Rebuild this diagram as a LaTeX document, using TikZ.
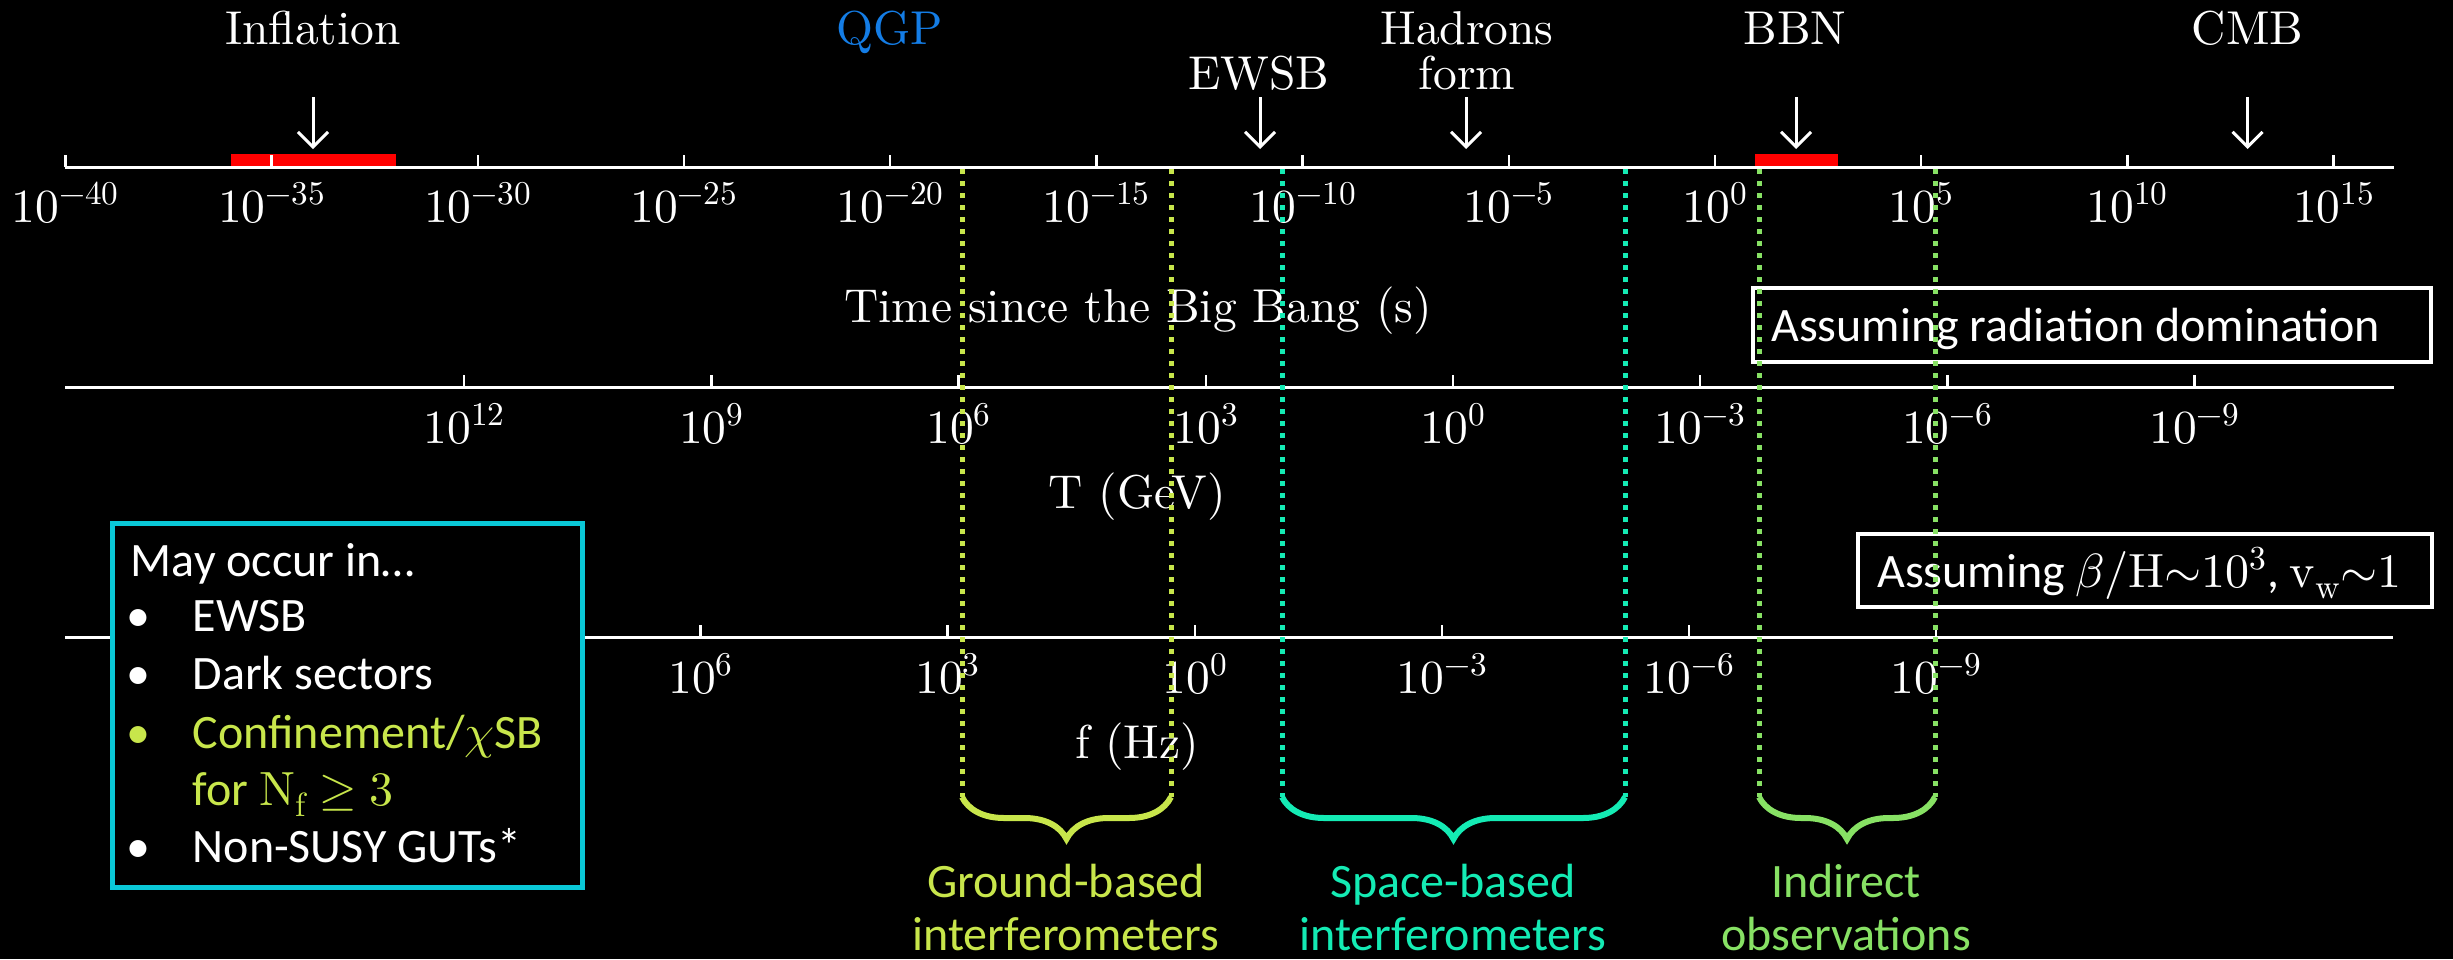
\documentclass[tikz,border=0pt]{standalone}
\usepackage{fontspec}
\usepackage{unicode-math}
\setmainfont{lmroman10-regular.otf}[ItalicFont=lmroman10-italic.otf, BoldFont=lmroman10-bold.otf]
\setmathfont{latinmodern-math.otf}
\newfontfamily\carlito{Carlito}
\usetikzlibrary{arrows.meta,decorations.pathreplacing}
\definecolor{groundc}{RGB}{200,230,75}
\definecolor{spacec}{RGB}{20,235,180}
\definecolor{indc}{RGB}{135,225,100}
\definecolor{qgpc}{RGB}{20,125,230}
\definecolor{boxc}{RGB}{10,200,215}
\begin{document}
\begin{tikzpicture}[x=1pt,y=-1pt,
  font=\fontsize{47.5}{56}\selectfont,
  axisline/.style={white, line width=3pt},
  tickmark/.style={white, line width=2.5pt},
  ticklabel/.style={white, anchor=base, inner sep=0pt},
  evlabel/.style={white, anchor=base, inner sep=0pt},
  axtitle/.style={white, anchor=base, inner sep=0pt},
  evarrow/.style={white, line width=3pt, -{Straight Barb[length=15pt,width=30pt,line width=3pt]}},
  redbar/.style={fill=red, draw=none},
  dotline/.style={line width=5pt, dash pattern=on 5pt off 7pt},
  bracestyle/.style={line width=6pt, decorate, decoration={brace, mirror, amplitude=42pt}},
  sans/.style={font=\carlito\fontsize{48}{55}\selectfont, inner sep=0pt},
  infobox/.style={draw=white, line width=4pt, fill=black, inner sep=0pt},
]
\fill[black] (0,0) rectangle (2453,959);
\useasboundingbox (0,0) rectangle (2453,959);

% ---- event labels
\node[evlabel] (infl) at (313,44) {Inflation};
\node[evlabel, text=qgpc] (qgp) at (889.5,44) {QGP};
\node[evlabel] (ewsb) at (1259,89) {EWSB};
\node[evlabel] (hadr) at (1467,44) {Hadrons};
\node[evlabel] (form) at (1467,89) {form};
\node[evlabel] (bbn) at (1795,44) {BBN};
\node[evlabel] (cmb) at (2247.5,44) {CMB};

% ---- event arrows
\foreach \nm/\xx in {ai/313, ae/1260, ah/1466, ab/1796, ac/2247.5}{
  \coordinate (\nm s) at (\xx,97);
  \coordinate (\nm e) at (\xx,149);
  \draw[evarrow] (\nm s) -- (\nm e);
}

% ---- red bars
\node[redbar, minimum width=165, minimum height=12, inner sep=0pt, anchor=south west] (infbar) at (231,166) {};
\node[redbar, minimum width=83, minimum height=12, inner sep=0pt, anchor=south west] (bbnbar) at (1755,166) {};

% ---- time axis
\coordinate (ta0) at (65.4,167);
\coordinate (ta1) at (2394,167);
\draw[axisline] (ta0) -- (ta1);
\foreach \n [count=\i] in {-40,-35,...,15}{
  \pgfmathsetmacro\xx{65.4+(\n+40)*41.24}
  \draw[tickmark] (\xx,155) -- (\xx,167);
  \node[ticklabel] (tl\i) at (\xx,222) {$10^{\n}$};
}
\node[axtitle] (ttitle) at (1138,322.7) {Time since the Big Bang (s)};

% ---- temperature axis
\coordinate (Ta0) at (65.4,387);
\coordinate (Ta1) at (2394,387);
\draw[axisline] (Ta0) -- (Ta1);
\foreach \k [count=\i] in {12,9,...,-9}{
  \pgfmathsetmacro\xx{1453-\k*82.4}
  \draw[tickmark] (\xx,375) -- (\xx,387);
  \node[ticklabel] (Tl\i) at (\xx,443) {$10^{\k}$};
}
\node[axtitle] (Ttitle) at (1137,508) {T (GeV)};

% ---- frequency axis
\coordinate (fa0) at (65.4,637);
\coordinate (fa1) at (2393,637);
\draw[axisline] (fa0) -- (fa1);
\foreach \k [count=\i] in {6,3,...,-9}{
  \pgfmathsetmacro\xx{1194.8-\k*82.37}
  \draw[tickmark] (\xx,625) -- (\xx,637);
  \node[ticklabel] (fl\i) at (\xx,693) {$10^{\k}$};
}
\node[axtitle] (ftitle) at (1137,758) {f (Hz)};

% ---- assumption boxes
\node[infobox, minimum width=678, minimum height=74] (radbox) at (2092,325) {};
\node[sans, white, anchor=base west] (radtxt) at (1771,341.7) {Assuming radiation domination};
\node[infobox, minimum width=574, minimum height=73] (betabox) at (2145,570.5) {};
\node[sans, white, anchor=base west] (betatxt) at (1877,587) {Assuming $\beta/\mathrm{H}{\sim}10^3$, $\mathrm{v_w}{\sim}1$};

% ---- "May occur in" box
\node[draw=boxc, line width=5pt, fill=black, minimum width=470, minimum height=364, inner sep=0pt] (occbox) at (347,705) {};
\node[sans, white, anchor=base west] (occ0) at (130.7,576) {May occur in…};
\node[sans, white, anchor=base] (b1) at (138.6,631) {•};
\node[sans, white, anchor=base west] (occ1) at (192.5,631) {EWSB};
\node[sans, white, anchor=base] (b2) at (138.6,689.3) {•};
\node[sans, white, anchor=base west] (occ2) at (192.5,689.3) {Dark sectors};
\node[sans, text=groundc, anchor=base] (b3) at (138.6,748.3) {•};
\node[sans, text=groundc, anchor=base west] (occ3) at (192.5,748.3) {Confinement/$\chi$SB};
\node[sans, text=groundc, anchor=base west] (occ3b) at (192.5,805) {for $\mathrm{N_f}\geq 3$};
\node[sans, white, anchor=base] (b4) at (138.6,862.7) {•};
\node[sans, white, anchor=base west] (occ4) at (192.5,862.7) {Non-SUSY GUTs*};

% ---- dotted lines
\foreach \nm/\xx/\cc in {g1/962/groundc, g2/1171/groundc, s1/1282/spacec, s2/1625/spacec, i1/1759/indc, i2/1935/indc}{
  \coordinate (\nm t) at (\xx,169);
  \coordinate (\nm b) at (\xx,797);
  \draw[dotline, \cc] (\nm t) -- (\nm b);
}

% ---- braces
\draw[bracestyle, groundc] (g1b) -- (g2b);
\draw[bracestyle, spacec] (s1b) -- (s2b);
\draw[bracestyle, indc] (i1b) -- (i2b);

% ---- brace labels
\node[sans, text=groundc, anchor=base] (gl1) at (1066,897) {Ground-based};
\node[sans, text=groundc, anchor=base] (gl2) at (1066,950) {interferometers};
\node[sans, text=spacec, anchor=base] (sl1) at (1453,897) {Space-based};
\node[sans, text=spacec, anchor=base] (sl2) at (1453,950) {interferometers};
\node[sans, text=indc, anchor=base] (il1) at (1846,897) {Indirect};
\node[sans, text=indc, anchor=base] (il2) at (1846,950) {observations};
\end{tikzpicture}
\end{document}
